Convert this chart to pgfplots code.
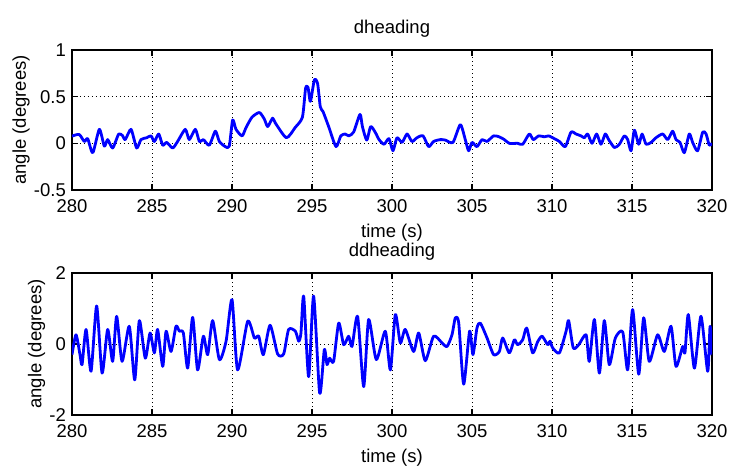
\documentclass[border=0pt]{standalone}
\usepackage{fontspec}
\setmainfont{Liberation Sans}
\usepackage{pgfplots}
\pgfplotsset{compat=1.18}

\newcommand{\fs}{\fontsize{18.5bp}{21bp}\selectfont}

\pgfplotsset{mlab/.style={
  scale only axis, width=640bp,
  xmin=280, xmax=320, xtick={280,285,...,320},
  grid=major,
  major grid style={black, line width=0.7bp, dash pattern=on 1bp off 3bp},
  axis line style={black, line width=1.4bp},
  tick style={black, line width=1.2bp},
  major tick length=6bp,
  tick align=inside,
  /pgf/number format/assume math mode=true,
  tick label style={font=\fs, inner sep=0pt},
  xticklabel style={yshift=-9bp},
  yticklabel style={xshift=-6bp},
  label style={font=\fs},
  xlabel style={at={(axis description cs:0.5,0)}, anchor=north, inner sep=0pt, yshift=-34bp},
  ylabel style={inner sep=0pt},
  ylabel shift=4bp,
  title style={font=\fs, at={(axis description cs:0.5,1)}, anchor=south, inner sep=0pt, yshift=6bp},
  xlabel={time (s)}, ylabel={angle (degrees)},
  every axis plot/.append style={color={rgb,255:red,0;green,0;blue,255}, line width=2.8bp, no marks, line join=round, smooth, tension=0.4},
}}

\begin{document}
\begin{tikzpicture}
\useasboundingbox (-72bp,-276bp) rectangle (658bp,190bp);
\begin{axis}[mlab, at={(0,0)}, anchor=south west, height=140bp,
  ymin=-0.5, ymax=1, ytick={-0.5,0,0.5,1}, title={dheading}]
\addplot coordinates {
(280.0,0.077) (280.45,0.095) (280.77,0.02) (280.98,0.05) (281.3,-0.1) (281.71,0.15)
(282.02,-0.03) (282.23,0.04) (282.54,-0.05) (282.92,0.10) (283.17,0.08) (283.33,0.04)
(283.69,0.15) (284.04,-0.05) (284.31,0.04) (284.67,0.06) (284.94,0.08) (285.15,0.02)
(285.42,0.10) (285.67,-0.02) (285.92,0.01) (286.29,-0.05) (286.6,0.02) (287.08,0.15)
(287.33,0.04) (287.71,0.15) (287.96,0.02) (288.21,0.04) (288.58,-0.02) (288.96,0.13)
(289.21,0.02) (289.58,-0.035) (289.83,-0.03) (290.04,0.25) (290.25,0.15) (290.63,0.08)
(290.88,0.17) (291.25,0.28) (291.71,0.33) (292.02,0.26) (292.23,0.18) (292.54,0.27)
(292.7,0.22) (293.4,0.06) (293.95,0.17) (294.4,0.28) (294.6,0.59) (294.75,0.6)
(294.9,0.45) (295.15,0.68) (295.35,0.64) (295.52,0.39) (295.69,0.34) (296.04,0.18)
(296.5,-0.035) (296.8,0.08) (297.08,0.10) (297.29,0.08) (297.6,0.12) (298.0,0.31)
(298.15,0.18) (298.42,0.035) (298.67,0.18) (298.98,0.11) (299.19,0.04) (299.5,-0.01)
(299.81,0.05) (300.06,-0.08) (300.31,0.06) (300.63,0.01) (300.94,0.10) (301.25,0.02)
(301.56,0.06) (301.94,0.08) (302.29,-0.035) (302.6,0.02) (303.02,0.04) (303.33,0.035)
(303.81,0.01) (304.27,0.20) (304.58,0.04) (304.79,-0.08) (305.0,0.01) (305.31,-0.035)
(305.63,0.04) (305.94,0.02) (306.35,0.08) (306.7,0.07) (307.02,0.04) (307.33,0.0)
(307.85,0.0) (308.17,-0.01) (308.58,0.10) (308.83,0.04) (309.17,0.08) (309.52,0.07)
(309.79,0.08) (310.04,0.06) (310.46,0.02) (310.83,-0.035) (311.19,0.12) (311.5,0.10)
(311.81,0.08) (312.02,0.06) (312.23,0.10) (312.5,0.0) (312.79,0.10) (313.06,-0.01)
(313.33,0.10) (313.54,0.04) (313.9,-0.045) (314.21,-0.01) (314.52,0.08) (314.73,0.04)
(314.94,-0.08) (315.15,0.14) (315.42,-0.01) (315.63,0.10) (315.88,-0.01) (316.19,0.01)
(316.5,0.06) (316.92,0.10) (317.23,0.04) (317.54,0.13) (317.75,0.04) (318.0,0.01)
(318.27,-0.10) (318.58,0.10) (318.79,0.01) (319.1,-0.08) (319.42,0.12) (319.63,0.10)
(319.83,-0.02) (320.0,0.0)
};
\end{axis}
\begin{axis}[mlab, at={(0,-225bp)}, anchor=south west, height=142bp,
  ymin=-2, ymax=2, ytick={-2,0,2}, title={ddheading}]
\addplot coordinates {
(280.0,-0.30) (280.25,0.26) (280.5,-0.30) (280.63,-0.58) (280.88,0.41) (281.19,-0.77)
(281.54,1.07) (281.88,-0.82) (282.23,0.41) (282.54,-0.49) (282.79,0.78) (283.13,-0.49)
(283.58,0.50) (283.92,-1.01) (284.21,0.66) (284.58,-0.40) (284.88,0.31) (285.15,-0.25)
(285.35,0.41) (285.67,-0.63) (285.88,0.36) (286.19,-0.21) (286.5,0.50) (286.71,0.36)
(286.96,0.31) (287.23,-0.68) (287.54,0.75) (287.85,-0.73) (288.21,0.22) (288.48,-0.30)
(288.79,0.66) (289.21,-0.44) (289.63,0.08) (290.0,1.25) (290.35,-0.73) (290.98,0.64)
(291.4,0.17) (291.67,0.22) (291.96,-0.30) (292.38,0.53) (292.85,-0.28) (293.23,-0.28)
(293.54,0.41) (293.96,0.36) (294.17,0.08) (294.31,0.31) (294.48,1.35) (294.79,-0.92)
(295.1,1.35) (295.48,-1.39) (295.77,-0.16) (295.94,-0.58) (296.1,-0.40) (296.35,-0.49)
(296.67,0.59) (296.98,-0.02) (297.29,0.22) (297.5,-0.07) (297.85,0.78) (298.23,-1.20)
(298.54,0.69) (299.02,-0.44) (299.58,0.36) (299.9,-0.73) (300.21,0.83) (300.52,0.03)
(300.83,0.41) (301.35,-0.21) (301.67,0.31) (302.08,-0.47) (302.6,0.22) (303.13,0.03)
(303.44,-0.07) (303.75,0.26) (303.96,0.74) (304.17,0.59) (304.48,-1.13) (304.85,0.36)
(305.06,-0.30) (305.31,0.45) (305.52,0.59) (305.94,0.17) (306.35,-0.30) (306.71,-0.21)
(306.92,0.17) (307.33,-0.25) (307.65,0.12) (307.85,-0.02) (308.17,0.12) (308.42,0.45)
(308.79,-0.25) (309.1,0.06) (309.38,0.22) (309.73,-0.02) (309.88,0.08) (310.04,-0.11)
(310.46,-0.25) (310.88,0.36) (311.04,0.66) (311.33,-0.11) (311.67,-0.02) (312.13,0.26)
(312.33,-0.49) (312.65,0.69) (312.96,-0.82) (313.27,0.66) (313.58,-0.58) (313.96,0.17)
(314.42,0.34) (314.73,-0.73) (315.04,0.97) (315.42,-0.85) (315.73,0.74) (316.08,-0.49)
(316.6,0.26) (317.02,-0.21) (317.44,0.50) (317.75,-0.63) (318.17,-0.07) (318.31,-0.25)
(318.52,0.83) (318.9,-0.68) (319.31,0.78) (319.73,-0.77) (319.88,0.50) (320.0,-0.30)
};
\end{axis}
\end{tikzpicture}
\end{document}
